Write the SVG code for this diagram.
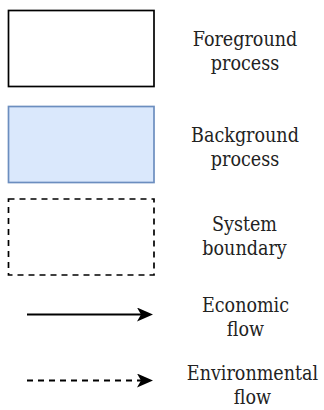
<svg xmlns="http://www.w3.org/2000/svg" width="324" height="410" viewBox="0 0 324 410">
  <style>
    .box { stroke-width: 1.7; }
    .fg { fill: #ffffff; stroke: #000000; }
    .bg { fill: #dae8fc; stroke: #6c8ebf; }
    .sys { fill: none; stroke: #000000; stroke-dasharray: 6 5; }
    .flow { fill: none; stroke: #000000; stroke-width: 2; }
    .env { stroke-dasharray: 6 5; }
    .lbl { font-family: "DejaVu Serif Condensed", "DejaVu Serif", serif; font-stretch: condensed; font-size: 19.5px; fill: #222222; text-anchor: middle; }
  </style>
  <defs>
    <marker id="head" markerUnits="userSpaceOnUse" viewBox="0 0 16 14" markerWidth="16" markerHeight="14" refX="6" refY="7" orient="auto">
      <path d="M0,0 L16,7 L0,14 L4,7 Z" fill="#000000"/>
    </marker>
  </defs>
  <rect width="324" height="410" fill="#ffffff"/>

  <g id="foreground-process">
    <rect class="box fg" x="8.5" y="10.5" width="145.5" height="76"/>
    <text class="lbl" x="245" y="45.5">Foreground</text>
    <text class="lbl" x="245" y="70">process</text>
  </g>

  <g id="background-process">
    <rect class="box bg" x="8.5" y="106.5" width="145.5" height="76"/>
    <text class="lbl" x="245" y="141.5">Background</text>
    <text class="lbl" x="245" y="166">process</text>
  </g>

  <g id="system-boundary">
    <rect class="box sys" x="8.5" y="199" width="145.5" height="76"/>
    <text class="lbl" x="244.5" y="231">System</text>
    <text class="lbl" x="244.5" y="255">boundary</text>
  </g>

  <g id="economic-flow-label">
    <text class="lbl" x="245.5" y="311.5">Economic</text>
    <text class="lbl" x="245.5" y="336">flow</text>
  </g>

  <g id="environmental-flow-label">
    <text class="lbl" x="252.5" y="380">Environmental</text>
    <text class="lbl" x="252.5" y="404">flow</text>
  </g>

  <g id="connectors">
    <line class="flow" x1="27" y1="314.5" x2="143" y2="314.5" marker-end="url(#head)"/>
    <line class="flow env" x1="27" y1="380.5" x2="143" y2="380.5" marker-end="url(#head)"/>
  </g>
</svg>
